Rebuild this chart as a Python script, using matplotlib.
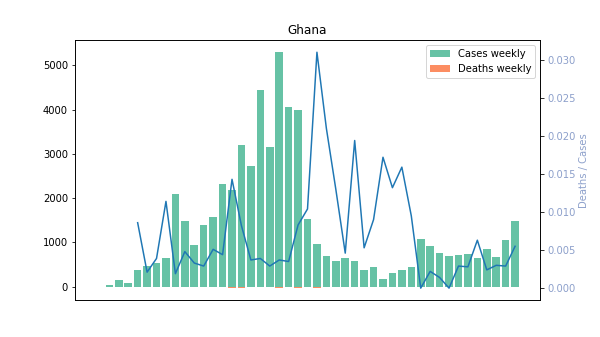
"""
Casos e óbitos semanais de COVID-19 em Gana, com a razão óbitos/casos
num eixo secundário.
"""

import numpy as np
import matplotlib
matplotlib.use("Agg")  # backend sem janela (headless)
import matplotlib.pyplot as plt

PAIS = "Ghana"

# casos semanais (semana 0 ainda sem registros)
casos_semana = [0, 30, 142, 75, 368, 473, 530, 638, 2101, 1486,
                946, 1396, 1576, 2320, 2185, 3198, 2725, 4437, 3153, 5293,
                4054, 3986, 1532, 968, 698, 585, 653, 585, 383, 450,
                180, 315, 383, 450, 1081, 923, 766, 698, 720, 743,
                653, 856, 675, 1058, 1486]

# óbitos semanais
obitos_semana = [0, 0, 0, 0, 3, 1, 2, 7, 4, 7,
                 3, 4, 8, 10, 31, 26, 10, 17, 9, 20,
                 14, 33, 16, 30, 15, 8, 3, 11, 2, 4,
                 3, 4, 6, 4, 0, 2, 1, 0, 2, 2,
                 4, 2, 2, 3, 8]

# razão óbitos / casos (sem valor nas primeiras semanas)
razao = [np.nan, np.nan, np.nan, np.nan, 0.0086, 0.0021, 0.0039, 0.0114, 0.0019, 0.0048,
         0.0033, 0.0029, 0.0051, 0.0044, 0.0143, 0.0082, 0.0037, 0.0039, 0.0029, 0.0037,
         0.0035, 0.0083, 0.0104, 0.0310, 0.0210, 0.0130, 0.0046, 0.0194, 0.0053, 0.0090,
         0.0172, 0.0132, 0.0159, 0.0095, 0.0, 0.0022, 0.0014, 0.0, 0.0029, 0.0028,
         0.0063, 0.0024, 0.0030, 0.0029, 0.0055]

COR_CASOS = "#66c2a5"
COR_OBITOS = "#fc8d62"
COR_RAZAO = "#8da0cb"


def gerar_grafico():
    fig, ax = plt.subplots(figsize=(600 / 72, 337 / 72), dpi=72)

    semanas = np.arange(len(casos_semana))

    ax.bar(semanas, casos_semana, width=0.8, color=COR_CASOS, label="Cases weekly")
    # óbitos desenhados para baixo, abaixo da linha do zero
    ax.bar(semanas, -np.array(obitos_semana), width=0.8, color=COR_OBITOS,
           label="Deaths weekly")
    ax.set_xticks([])
    ax.set_title(PAIS)
    ax.legend(loc="upper right")

    ax2 = ax.twinx()
    ax2.plot(semanas, razao, color="#1f77b4", linewidth=1.5)
    ax2.set_ylabel("Deaths / Cases", color=COR_RAZAO)
    ax2.tick_params(axis="y", labelcolor=COR_RAZAO)

    fig.savefig("out.png", dpi=72)
    plt.close(fig)


if __name__ == "__main__":
    gerar_grafico()
